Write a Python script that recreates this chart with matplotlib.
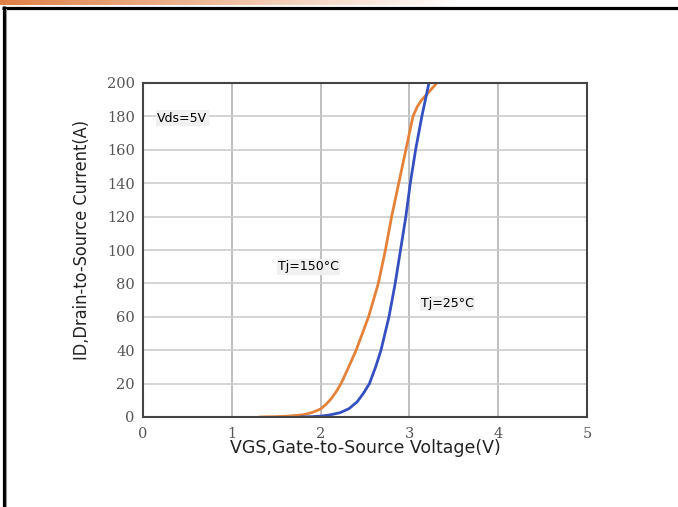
import numpy as np
import matplotlib.pyplot as plt

# transfer characteristic, values
vgs_150 = [1.32, 1.5, 1.65, 1.8, 1.9, 2.0, 2.06, 2.12, 2.18, 2.23, 2.3, 2.4,
           2.47, 2.54, 2.65, 2.73, 2.80, 2.88, 2.96, 3.04, 3.09, 3.14,
           3.21, 3.30]
id_150 = [0, 0.2, 0.6, 1.3, 2.6, 4.8, 7.5, 11, 15.5, 20, 28, 40,
          50, 60, 80, 100, 120, 140, 160, 180, 186, 190,
          194, 199.5]

vgs_25 = [1.78, 1.9, 2.0, 2.1, 2.22, 2.32, 2.41, 2.48, 2.55, 2.62, 2.68,
          2.77, 2.84, 2.90, 2.96, 3.01, 3.07, 3.14, 3.22]
id_25 = [0, 0.2, 0.5, 1.2, 2.6, 5, 9, 14, 20, 30, 40,
         60, 80, 100, 120, 140, 160, 180, 200]

x_ticks = [0, 1, 2, 3, 4, 5]
y_ticks = [0, 20, 40, 60, 80, 100, 120, 140, 160, 180, 200]

fig = plt.figure(figsize=(6.78, 5.07), dpi=100)

# page decoration: orange fade on top, black frame lines
deco = fig.add_axes([0, 0, 1, 1], zorder=-1)
deco.set_xlim(0, 678)
deco.set_ylim(507, 0)
deco.axis("off")
fade = np.linspace(0, 1, 256)
c0 = np.array([224, 128, 70]) / 255.0
grad = np.ones((1, 256, 3))
t = np.clip(fade * 678 / 460, 0, 1)[:, None]
grad[0] = c0 * (1 - t) + t * 1.0
deco.imshow(grad, extent=[0, 678, 5, 0], aspect="auto")
deco.plot([2, 678], [7.5, 7.5], color="black", lw=2.3, solid_capstyle="butt")
deco.plot([4, 4], [6, 507], color="black", lw=2.3, solid_capstyle="butt")
deco.plot([6.3, 6.3], [9, 507], color="#999999", lw=0.8)

ax = fig.add_axes([143 / 678, 90 / 507, 444 / 678, 334 / 507])
ax.plot(vgs_150, id_150, color="#E5823A", lw=2, solid_joinstyle="round")
ax.plot(vgs_25, id_25, color="#3550C0", lw=2, solid_joinstyle="round")

ax.set_xlim(0, 5)
ax.set_ylim(0, 200)
ax.set_xticks(x_ticks)
ax.set_yticks(y_ticks)
ax.tick_params(length=0, labelsize=10.5, labelcolor="#555555")
ax.tick_params(axis="x", pad=7)
ax.tick_params(axis="y", pad=6)
for lab in ax.get_xticklabels() + ax.get_yticklabels():
    lab.set_family("DejaVu Serif")
ax.grid(True, axis="x", color="#b4b4b4", lw=1.2)
ax.grid(True, axis="y", color="#cccccc", lw=1.2)
ax.set_axisbelow(True)
for s in ax.spines.values():
    s.set_color("#444444")
    s.set_linewidth(1.5)

ax.set_xlabel("VGS,Gate-to-Source Voltage(V)", fontsize=12.5, color="#222222",
              labelpad=-1)
ax.set_ylabel("ID,Drain-to-Source Current(A)", fontsize=13, color="#222222",
              fontstretch="condensed", labelpad=6)
ax.yaxis.set_label_coords(-0.118, 0.53)

box = dict(facecolor="#f0f0f0", edgecolor="none", pad=1)
ax.text(0.16, 179, "Vds=5V", fontsize=9, va="center", bbox=box)
ax.text(1.52, 90, "Tj=150°C", fontsize=9, va="center", bbox=box)
ax.text(3.13, 68, "Tj=25°C", fontsize=9, va="center", bbox=box)

fig.savefig("out.png", dpi=100)
